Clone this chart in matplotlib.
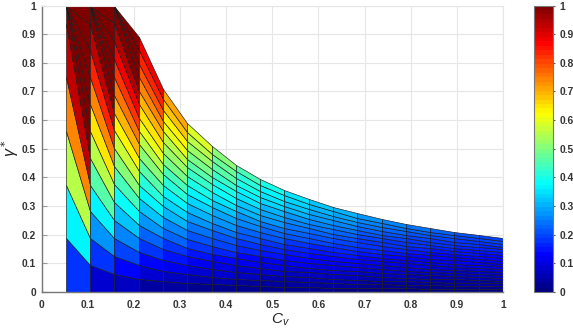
import matplotlib
matplotlib.use("Agg")
import matplotlib.pyplot as plt
from matplotlib.colors import LinearSegmentedColormap
import numpy as np

plt.rcParams['font.family'] = ['Liberation Sans', 'DejaVu Sans']
plt.rcParams['mathtext.fontset'] = 'custom'
plt.rcParams['mathtext.it'] = 'Liberation Sans:italic'

# column positions along the x axis
cv = [0.0526, 0.1053, 0.1579, 0.2105, 0.2632, 0.3158, 0.3684, 0.4211, 0.4737, 0.5263,
      0.5789, 0.6316, 0.6842, 0.7368, 0.7895, 0.8421, 0.8947, 0.9474, 1.0]
# height of the top row in each column, before the axis cuts it off at 1
gamma_top = [3.56, 1.78, 1.19, 0.89, 0.71, 0.59, 0.51, 0.445, 0.395, 0.356,
             0.324, 0.297, 0.274, 0.254, 0.237, 0.222, 0.209, 0.198, 0.188]
# share of the top height reached by each row line
row_share = [0, 0.0526, 0.1053, 0.1579, 0.2105, 0.2632, 0.3158, 0.3684, 0.4211, 0.4737,
             0.5263, 0.5789, 0.6316, 0.6842, 0.7368, 0.7895, 0.8421, 0.8947, 0.9474, 1.0]
ticks = [0, 0.1, 0.2, 0.3, 0.4, 0.5, 0.6, 0.7, 0.8, 0.9, 1]
tick_labels = ['0', '0.1', '0.2', '0.3', '0.4', '0.5', '0.6', '0.7', '0.8', '0.9', '1']

# the matlab flavour of jet: cyan at 3/8, yellow at 5/8
jet_stops = [(0, (0, 0, 0.5)), (0.125, (0, 0, 1)), (0.375, (0, 1, 1)),
             (0.625, (1, 1, 0)), (0.875, (1, 0, 0)), (1, (0.5, 0, 0))]
jet = LinearSegmentedColormap.from_list('matlab_jet', jet_stops, N=64)

W, H = 573, 331
fig = plt.figure(figsize=(W / 100, H / 100), dpi=100)
ax = fig.add_axes([41.5 / W, 1 - 292 / H, (503 - 41.5) / W, (292 - 5.5) / H])
cax = fig.add_axes([533.5 / W, 1 - 292 / H, 19.5 / W, (292 - 5.5) / H])

X, R = np.meshgrid(cv, row_share)
Y = np.minimum(R * np.array(gamma_top), 1)
# each face takes its colour from its upper left corner
C = Y[1:, :-1]

ax.grid(True, color='#e6e6e6', lw=0.8)
ax.set_axisbelow(True)
mesh = ax.pcolormesh(X, Y, C, shading='flat', cmap=jet, vmin=0, vmax=1,
                     edgecolors='#1a1a1a', linewidth=0.45, antialiased=True, zorder=2)

ax.set_xlim(0, 1)
ax.set_ylim(0, 1)
ax.set_xticks(ticks)
ax.set_xticklabels(tick_labels, fontweight='bold')
ax.set_yticks(ticks)
ax.set_yticklabels(tick_labels, fontweight='bold')
ax.tick_params(length=3.5, width=0.8, color='#999999', labelsize=7.4, labelcolor='#333333', direction='in')
ax.tick_params(axis='x', pad=6)
ax.tick_params(axis='y', pad=4)
for side in ['left', 'bottom']:
    ax.spines[side].set_color('#777777')
    ax.spines[side].set_linewidth(1.0)
for side in ['top', 'right']:
    ax.spines[side].set_color('#e6e6e6')
    ax.spines[side].set_linewidth(0.8)

fig.text(280 / W, 1 - 320 / H, r'$C_v$', fontsize=11, ha='center', va='center', color='#222222')
fig.text(10 / W, 1 - 148 / H, r'$\gamma^*$', fontsize=11.5, rotation=90, ha='center', va='center',
         color='#222222')

cb = fig.colorbar(mesh, cax=cax)
cb.set_ticks(ticks)
cb.set_ticklabels(tick_labels, fontweight='bold')
cb.ax.tick_params(length=1.5, width=0.8, color='#555555', labelsize=7.4, labelcolor='#333333', pad=3,
                  direction='out')
cb.outline.set_edgecolor('#777777')
cb.outline.set_linewidth(0.8)

fig.savefig('out.png', dpi=100)
